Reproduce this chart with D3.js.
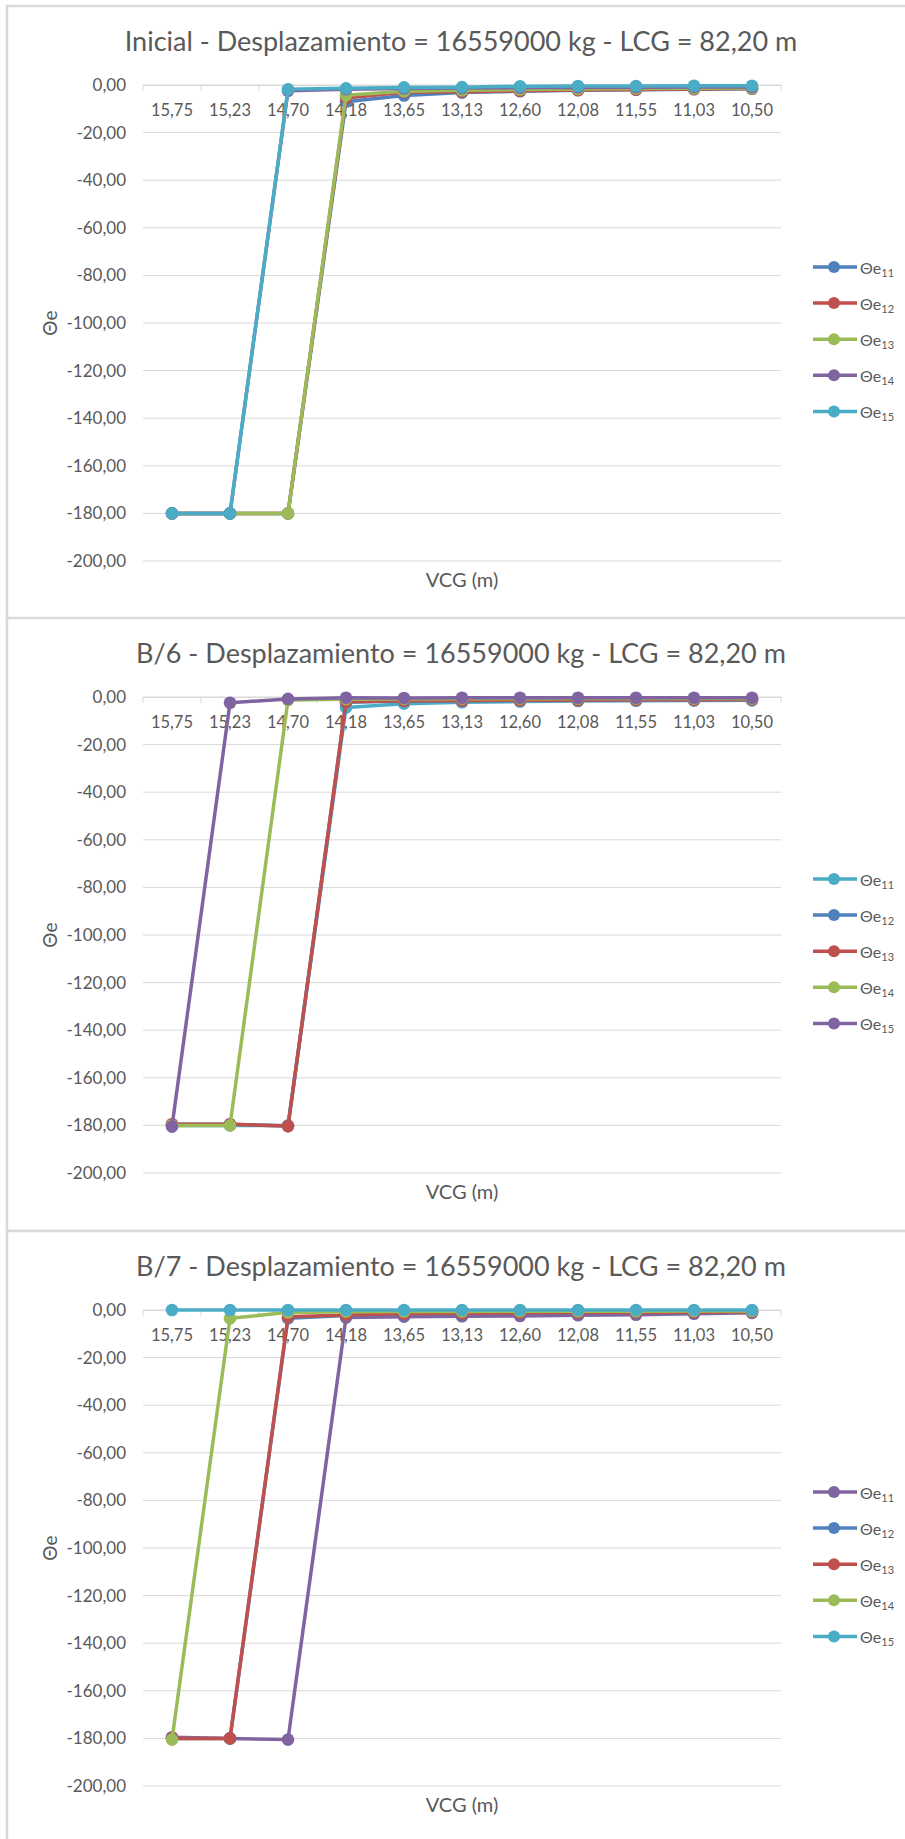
<!DOCTYPE html>
<html>
<head>
<meta charset="utf-8">
<script src="https://cdn.jsdelivr.net/npm/d3@7"></script>
<style>
  html, body { margin: 0; padding: 0; background: #fff; }
  svg text { font-family: Lato, "Open Sans", sans-serif; }
</style>
</head>
<body>
<div id="chart"></div>
<script>
const categories = ["15,75", "15,23", "14,70", "14,18", "13,65", "13,13", "12,60", "12,08", "11,55", "11,03", "10,50"];
const seriesNames = ["11", "12", "13", "14", "15"];
const yTicks = [-200, -180, -160, -140, -120, -100, -80, -60, -40, -20, 0];

// Inicial
const inicial11 = [-180, -180, -180, -7.0, -4.4, -3.2, -2.6, -2.2, -2.0, -1.8, -1.6];
const inicial12 = [-180, -180, -180, -5.5, -3.0, -2.8, -2.4, -2.1, -1.9, -1.7, -1.5];
const inicial13 = [-180, -180, -180, -4.3, -2.6, -2.2, -1.9, -1.7, -1.5, -1.4, -1.3];
const inicial14 = [-180, -180, -2.4, -1.8, -1.5, -1.3, -1.1, -1.0, -0.9, -0.8, -0.8];
const inicial15 = [-180, -180, -1.8, -1.4, -1.0, -0.9, -0.5, -0.4, -0.4, -0.3, -0.3];

// B/6
const b6_11 = [-180, -180, -180, -4.4, -2.8, -2.2, -1.9, -1.7, -1.6, -1.5, -1.4];
const b6_12 = [-179.5, -179.5, -180.3, -2.2, -1.7, -1.6, -1.5, -1.4, -1.3, -1.3, -1.2];
const b6_13 = [-179.5, -179.5, -180.3, -2.0, -1.6, -1.5, -1.4, -1.3, -1.2, -1.2, -1.1];
const b6_14 = [-180, -180, -1.3, -0.9, -0.8, -0.7, -0.7, -0.6, -0.6, -0.6, -0.6];
const b6_15 = [-180.5, -2.4, -0.8, -0.3, -0.4, -0.3, -0.3, -0.3, -0.3, -0.3, -0.3];

// B/7
const b7_11 = [-179.5, -180, -180.5, -3.2, -2.8, -2.6, -2.5, -2.2, -2.0, -1.6, -1.2];
const b7_12 = [-180, -180, -3.5, -2.3, -1.8, -1.5, -1.3, -1.2, -1.1, -1.0, -0.9];
const b7_13 = [-180, -180, -2.8, -2.1, -1.6, -1.4, -1.2, -1.1, -1.0, -0.9, -0.8];
const b7_14 = [-180.5, -3.5, -1.0, -0.7, -0.6, -0.6, -0.5, -0.5, -0.5, -0.4, -0.4];
const b7_15 = [0, 0, 0, 0, 0, 0, 0, 0, 0, 0, 0];

const blue = "#4F81BD", red = "#C0504D", green = "#9BBB59", purple = "#8064A2", teal = "#4BACC6";

const panels = [
    { title: "Inicial - Desplazamiento = 16559000 kg - LCG = 82,20 m",
      series: [inicial11, inicial12, inicial13, inicial14, inicial15],
      colors: [blue, red, green, purple, teal] },
    { title: "B/6 - Desplazamiento = 16559000 kg - LCG = 82,20 m",
      series: [b6_11, b6_12, b6_13, b6_14, b6_15],
      colors: [teal, blue, red, green, purple] },
    { title: "B/7 - Desplazamiento = 16559000 kg - LCG = 82,20 m",
      series: [b7_11, b7_12, b7_13, b7_14, b7_15],
      colors: [purple, blue, red, green, teal] }
];

const width = 905, height = 1839;
const panelTops = [5, 617, 1230];
const panelH = 613;
const plot = { left: 143, right: 781, top: 80, bottom: 556 };
const textColor = "#595959";
const gridColor = "#d9d9d9";

const locale = d3.formatLocale({ decimal: ",", thousands: ".", grouping: [3], currency: ["", ""], minus: "-" });
const fmt = locale.format(".2f");

const svg = d3.select("#chart")
    .append("svg")
    .attr("width", width)
    .attr("height", height);

panels.forEach((p, i) => {
    const g = svg.append("g").attr("transform", `translate(0,${panelTops[i]})`);

    g.append("rect")
        .attr("x", 7).attr("y", 1)
        .attr("width", 910).attr("height", panelH)
        .attr("fill", "#fff")
        .attr("stroke", gridColor)
        .attr("stroke-width", 2.5);

    const x = d3.scaleBand().domain(categories).range([plot.left, plot.right]);
    const y = d3.scaleLinear().domain([-200, 0]).range([plot.bottom, plot.top]);
    const cx = (j) => x(categories[j]) + x.bandwidth() / 2;

    // gridlines
    g.append("g")
        .selectAll("line")
        .data(yTicks)
        .join("line")
        .attr("x1", plot.left).attr("x2", plot.right)
        .attr("y1", d => y(d)).attr("y2", d => y(d))
        .attr("stroke", gridColor)
        .attr("stroke-width", 1);

    // y axis labels
    g.append("g")
        .attr("transform", `translate(${plot.left},0)`)
        .call(d3.axisLeft(y).tickValues(yTicks).tickFormat(fmt).tickSize(0).tickPadding(17))
        .call(a => a.select(".domain").remove())
        .attr("font-family", null)
        .attr("font-size", 17)
        .attr("color", textColor);

    // category axis sits on the 0 line, ticks between categories
    const bounds = categories.map(c => x(c)).concat([plot.right]);
    g.append("g")
        .selectAll("line")
        .data(bounds)
        .join("line")
        .attr("x1", d => d).attr("x2", d => d)
        .attr("y1", y(0)).attr("y2", y(0) + 6)
        .attr("stroke", gridColor);

    g.append("g")
        .attr("transform", `translate(0,${y(0)})`)
        .call(d3.axisBottom(x).tickSize(0).tickPadding(19))
        .call(a => a.select(".domain").attr("stroke", gridColor))
        .attr("font-family", null)
        .attr("font-size", 16.5)
        .attr("color", textColor);

    // series
    const line = d3.line()
        .x((d, j) => cx(j))
        .y(d => y(d));

    p.series.forEach((vals, k) => {
        const sg = g.append("g");
        sg.append("path")
            .datum(vals)
            .attr("d", line)
            .attr("fill", "none")
            .attr("stroke", p.colors[k])
            .attr("stroke-width", 3.5)
            .attr("stroke-linejoin", "round");
        sg.selectAll("circle")
            .data(vals)
            .join("circle")
            .attr("cx", (d, j) => cx(j))
            .attr("cy", d => y(d))
            .attr("r", 6.3)
            .attr("fill", p.colors[k]);
    });

    // title
    g.append("text")
        .attr("x", 461).attr("y", 46)
        .attr("text-anchor", "middle")
        .attr("font-size", 27)
        .attr("fill", textColor)
        .text(p.title);

    // axis titles
    g.append("text")
        .attr("transform", `translate(57,${(plot.top + plot.bottom) / 2}) rotate(-90)`)
        .attr("text-anchor", "middle")
        .attr("font-size", 19)
        .attr("fill", textColor)
        .text("Θe");

    g.append("text")
        .attr("x", (plot.left + plot.right) / 2).attr("y", 582)
        .attr("text-anchor", "middle")
        .attr("font-size", 20)
        .attr("fill", textColor)
        .text("VCG (m)");

    // legend
    const legend = g.append("g")
        .selectAll("g")
        .data(seriesNames)
        .join("g")
        .attr("transform", (d, k) => `translate(813,${262 + k * 36.1})`);

    legend.append("line")
        .attr("x1", 0).attr("x2", 44)
        .attr("stroke", (d, k) => p.colors[k])
        .attr("stroke-width", 3.5);
    legend.append("circle")
        .attr("cx", 21).attr("r", 6)
        .attr("fill", (d, k) => p.colors[k]);
    const lt = legend.append("text")
        .attr("x", 47).attr("y", 7)
        .attr("font-size", 16)
        .attr("fill", textColor)
        .text("Θe");
    lt.append("tspan")
        .attr("font-size", 11)
        .attr("dy", 3)
        .text(d => d);
});
</script>
</body>
</html>
